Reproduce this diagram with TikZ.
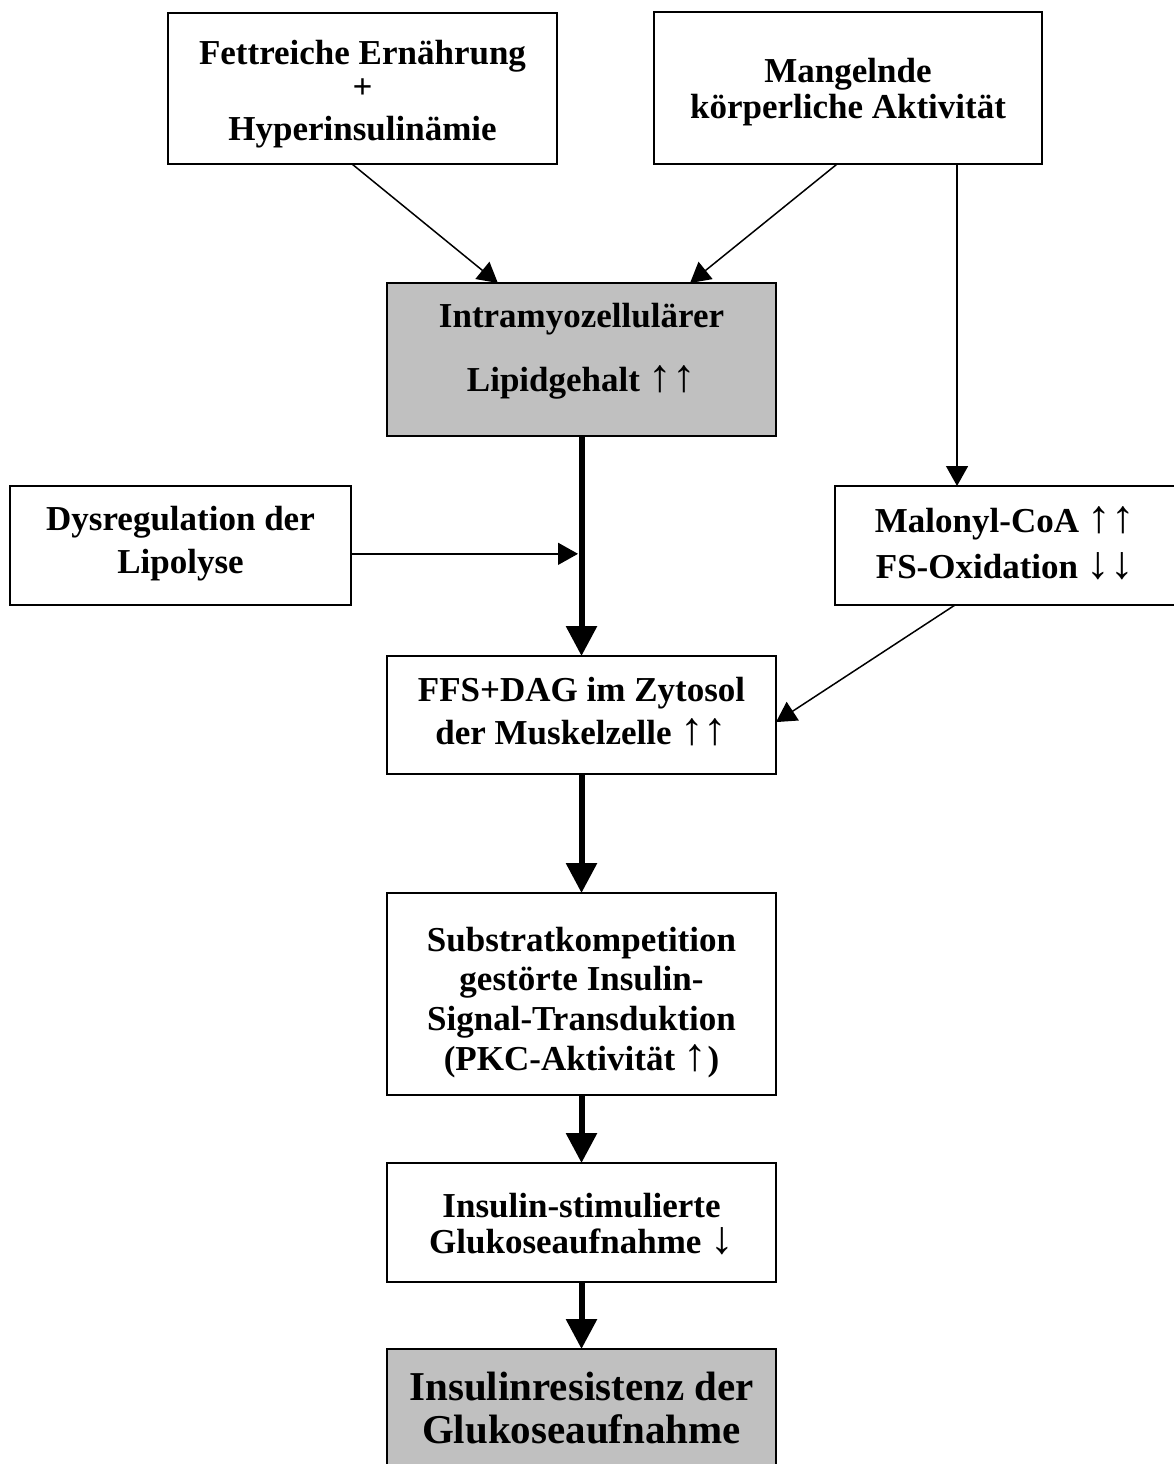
\documentclass[tikz,border=0pt]{standalone}
\usepackage{fontspec}
\usepackage{graphicx}
\setmainfont{Liberation Serif}
\usetikzlibrary{arrows.meta,calc}
\definecolor{boxgray}{HTML}{C0C0C0}
\newcommand\myup{\raisebox{0pt}[0.68em][0pt]{\scalebox{1.35}[1.32]{\mdseries ↑}}}
\newcommand\mydown{\raisebox{0pt}[0.68em][0pt]{\scalebox{1.35}[1.32]{\mdseries ↓}}}
\tikzset{
  box/.style={draw, line width=2pt, inner sep=0pt, outer sep=0pt, anchor=north west},
  grbox/.style={box, fill=boxgray},
  txt/.style={inner sep=0pt, outer sep=0pt, anchor=base, font=\bfseries\fontsize{35}{37}\selectfont},
  bigtxt/.style={txt, font=\bfseries\fontsize{41}{43}\selectfont},
  thinarrow/.style={line width=1.5pt, -{Triangle[width=22pt,length=20pt]}},
  thickarrow/.style={line width=6pt, -{Triangle[width=30pt,length=30pt]}}
}
\begin{document}
\begin{tikzpicture}[x=1pt,y=-1pt]
\clip (0,0) rectangle (1174,1464);
\useasboundingbox (0,0) rectangle (1174,1464);
\fill[white] (0,0) rectangle (1174,1464);

% boxes
\node[box, minimum width=389pt, minimum height=151pt] (b1) at (168,13) {};
\node[box, minimum width=388pt, minimum height=152pt] (b2) at (654,12) {};
\node[grbox, minimum width=389pt, minimum height=153pt] (b3) at (387,283) {};
\node[box, minimum width=341pt, minimum height=119pt] (b4) at (10,486) {};
\node[box, minimum width=340pt, minimum height=119pt] (b5) at (835,486) {};
\node[box, minimum width=389pt, minimum height=118pt] (b6) at (387,656) {};
\node[box, minimum width=389pt, minimum height=202pt] (b7) at (387,893) {};
\node[box, minimum width=389pt, minimum height=119pt] (b8) at (387,1163) {};
\node[grbox, minimum width=389pt, minimum height=140pt] (b9) at (387,1349) {};

% texts
\node[txt] (t1a) at (362.5,65) {Fettreiche Ernährung};
\node[txt] (t1b) at (362.5,98) {+};
\node[txt] (t1c) at (362.5,140) {Hyperinsulinämie};

\node[txt] (t2a) at (848,82) {Mangelnde};
\node[txt] (t2b) at (848,118) {körperliche Aktivität};

\node[txt] (t3a) at (581.5,327) {Intramyozellulärer};
\node[txt] (t3b) at (581.5,391) {Lipidgehalt \myup\myup};

\node[txt] (t4a) at (180.5,530) {Dysregulation der};
\node[txt] (t4b) at (180.5,573) {Lipolyse};

\node[txt] (t5a) at (1005,532) {Malonyl-CoA \myup\myup};
\node[txt] (t5b) at (1005,578) {FS-Oxidation \mydown\mydown};

\node[txt] (t6a) at (581.5,701) {FFS+DAG im Zytosol};
\node[txt] (t6b) at (581.5,744) {der Muskelzelle \myup\myup};

\node[txt] (t7a) at (581.5,951) {Substratkompetition};
\node[txt] (t7b) at (581.5,990) {gestörte Insulin-};
\node[txt] (t7c) at (581.5,1030) {Signal-Transduktion};
\node[txt] (t7d) at (581.5,1070) {(PKC-Aktivität \myup)};

\node[txt] (t8a) at (581.5,1217) {Insulin-stimulierte};
\node[txt] (t8b) at (581.5,1253) {Glukoseaufnahme \mydown};

\node[bigtxt] (t9a) at (581.5,1400) {Insulinresistenz der};
\node[bigtxt] (t9b) at (581.5,1443) {Glukoseaufnahme};

% thin connectors
\draw[thinarrow] ($(b1.south west)!0.473!(b1.south east)$) -- ($(b3.north west)!0.285!(b3.north east)$);
\draw[thinarrow] ($(b2.south west)!0.472!(b2.south east)$) -- ($(b3.north west)!0.779!(b3.north east)$);
\coordinate (c2) at ($(b2.south west)!0.781!(b2.south east)$);
\draw[thinarrow] (c2) -- (c2 |- b5.north);
\coordinate (c4) at ($(b4.north east)!0.57!(b4.south east)$);
\draw[thinarrow, shorten >=3.5pt] (c4) -- (c4 -| b3.south);
\draw[thinarrow] ($(b5.south west)!0.353!(b5.south east)$) -- ($(b6.north east)!0.56!(b6.south east)$);

% thick connectors
\draw[thickarrow] (b3.south) -- (b6.north);
\draw[thickarrow] (b6.south) -- (b7.north);
\draw[thickarrow] (b7.south) -- (b8.north);
\draw[thickarrow] (b8.south) -- (b9.north);
\end{tikzpicture}
\end{document}
